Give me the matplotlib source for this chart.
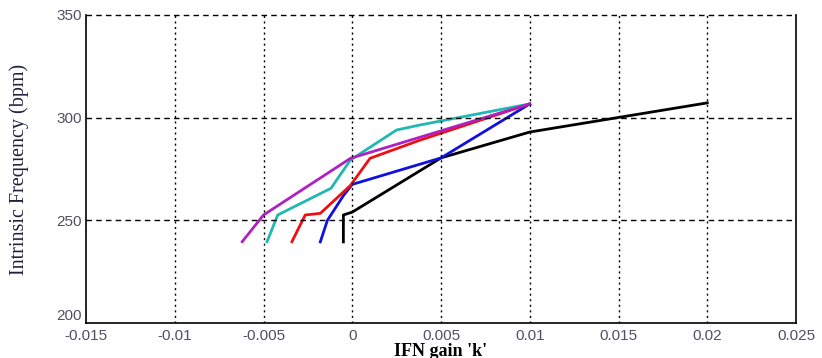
import numpy as np
import matplotlib.pyplot as plt

# IFN gain k vs intrinsic frequency (bpm), one curve per case
k_black = [-0.0005, -0.0005, 0.0, 0.005, 0.01, 0.02]
f_black = [239.5, 252.6, 254.0, 280.4, 293.0, 307.2]

k_blue = [-0.0018, -0.0014, -0.0005, 0.0, 0.005, 0.01]
f_blue = [239.5, 250.0, 262.0, 267.5, 280.4, 306.7]

k_red = [-0.0034, -0.00265, -0.0018, -0.0001, 0.001, 0.0038, 0.01]
f_red = [239.6, 252.6, 253.4, 267.0, 280.2, 289.0, 306.7]

k_cyan = [-0.0048, -0.0042, -0.0012, -0.0001, 0.0025, 0.0038, 0.01]
f_cyan = [239.6, 252.6, 265.6, 279.4, 294.0, 296.4, 306.7]

k_mag = [-0.0062, -0.005, -0.0001, 0.01]
f_mag = [239.6, 252.6, 280.2, 306.7]

xticks = [-0.015, -0.01, -0.005, 0, 0.005, 0.01, 0.015, 0.02, 0.025]
xticklabels = ['-0.015', '-0.01', '-0.005', '0', '0.005', '0.01', '0.015', '0.02', '0.025']
yticks = [200, 250, 300, 350]

fig = plt.figure(figsize=(8.22, 3.58), dpi=100)
ax = fig.add_axes([86/822, 35/358, 710/822, 308/358])

ax.plot(k_black, f_black, color='black', lw=2)
ax.plot(k_blue, f_blue, color='#1010e0', lw=2)
ax.plot(k_red, f_red, color='#ee1010', lw=2)
ax.plot(k_cyan, f_cyan, color='#20b8b0', lw=2)
ax.plot(k_mag, f_mag, color='#b020c0', lw=2)

ax.set_xlim(-0.015, 0.025)
ax.set_ylim(200, 350)
ax.set_xticks(xticks)
ax.set_xticklabels(xticklabels)
ax.set_yticks(yticks)

for x in xticks[1:-1]:
    ax.axvline(x, color='black', ls=(0, (1.5, 2.5)), lw=1)
for y in yticks[1:-1]:
    ax.axhline(y, color='black', ls=(0, (4, 3)), lw=1)
ax.plot([-0.015, 0.025], [350, 350], color='black', ls=(0, (4, 3)), lw=1, clip_on=False)

for s in ['left', 'bottom', 'right']:
    ax.spines[s].set_linewidth(1.2)
ax.spines['top'].set_visible(False)

ax.tick_params(direction='in', length=0, labelsize=11, labelcolor='#505060')
ax.tick_params(axis='x', pad=4)
ax.tick_params(axis='y', pad=3)
for lab in ax.get_xticklabels() + ax.get_yticklabels():
    lab.set_fontfamily('Liberation Sans')
ax.get_yticklabels()[0].set_va('bottom')

ax.set_xlabel("IFN gain 'k'", fontfamily='Liberation Serif', fontweight='bold',
              fontsize=13, labelpad=0)
ax.set_ylabel('Intrinsic Frequency (bpm)', fontfamily='Liberation Serif',
              fontsize=14.5, labelpad=20, color='#202040')

fig.savefig('out.png', dpi=100)
